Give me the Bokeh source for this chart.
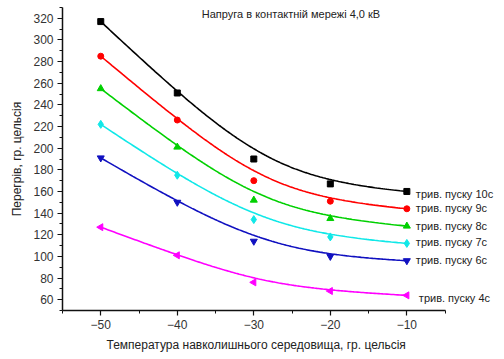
import numpy as np
from bokeh.plotting import figure
from bokeh.models import Range1d, Label, FixedTicker, Title
from bokeh.embed import file_html
from bokeh.resources import INLINE

# ---- data ----
temps = [-50, -40, -30, -20, -10]
start_10s = [317, 251, 190, 167, 160]
start_9s = [285, 226, 170, 151, 144]
start_8s = [255, 201, 152, 135, 128]
start_7s = [222, 175, 134, 118, 112]
start_6s = [191, 150, 114, 100, 96]
start_4s = [127, 101, 76, 68, 64]
series_labels = ["трив. пуску 10с", "трив. пуску 9с", "трив. пуску 8с",
                 "трив. пуску 7с", "трив. пуску 6с", "трив. пуску 4с"]
x_ticks = [-50, -40, -30, -20, -10]
y_ticks = [60, 80, 100, 120, 140, 160, 180, 200, 220, 240, 260, 280, 300, 320]
title_text = "Напруга в контактній мережі 4,0 кВ"
x_label = "Температура навколишнього середовища, гр. цельсія"
y_label = "Перегрів, гр. цельсія"

series = [start_10s, start_9s, start_8s, start_7s, start_6s, start_4s]
colors = ["#000000", "#ff0000", "#00d000", "#10e8e8", "#1010c0", "#ff00ff"]
markers = ["square", "circle", "triangle", "diamond", "inverted_triangle", "triangle"]
sizes = [6, 6, 7, 8, 7, 7]
angles = [0, 0, 0, 0, 0, np.pi / 2]
label_dx = [9, 9, 9, 9, 9, 12]
label_dy = [-3, 1, 0, 1, 1, -3]

FONT = "Liberation Sans"


def bspline(px, py, n=200):
    """Clamped cubic B-spline with the data points as control points
    (the 'B-Spline' line connection of the original chart)."""
    P = np.column_stack([px, py]).astype(float)
    m = len(P)
    k = 3
    inner = list(range(1, m - k))
    knots = np.array([0] * (k + 1) + inner + [m - k] * (k + 1), float)
    ts = np.linspace(0, m - k, n)
    ts[-1] -= 1e-9

    def basis(i, d, t):
        if d == 0:
            return 1.0 if knots[i] <= t < knots[i + 1] else 0.0
        a = 0.0
        if knots[i + d] != knots[i]:
            a = (t - knots[i]) / (knots[i + d] - knots[i]) * basis(i, d - 1, t)
        b = 0.0
        if knots[i + d + 1] != knots[i + 1]:
            b = (knots[i + d + 1] - t) / (knots[i + d + 1] - knots[i + 1]) * basis(i + 1, d - 1, t)
        return a + b

    out = np.array([sum(basis(i, k, t) * P[i] for i in range(m)) for t in ts])
    return out[:, 0], out[:, 1]


p = figure(width=504, height=359, output_backend="svg", toolbar_location=None,
           x_range=Range1d(-55, 2.5), y_range=Range1d(50, 330),
           min_border_left=62, min_border_right=2, min_border_top=7,
           min_border_bottom=49)
p.outline_line_color = None
p.xgrid.visible = False
p.ygrid.visible = False
p.background_fill_color = "white"
p.border_fill_color = "white"

for vals, col, mk, sz, ang, lab, dx, dy in zip(series, colors, markers, sizes,
                                               angles, series_labels,
                                               label_dx, label_dy):
    cx, cy = bspline(temps, vals)
    p.line(cx, cy, line_color=col, line_width=1.6)
    p.scatter(temps, vals, marker=mk, angle=ang, size=sz, fill_color=col,
              line_color=col)
    p.add_layout(Label(x=temps[-1], y=vals[-1], text=lab, x_offset=dx,
                       y_offset=dy, text_font=FONT, text_font_size="11px",
                       text_color="#222222", text_baseline="middle",
                       text_align="left"))

for ax in (p.xaxis[0], p.yaxis[0]):
    ax.axis_line_color = "#111111"
    ax.axis_line_width = 1.5
    ax.major_tick_line_color = "#111111"
    ax.minor_tick_line_color = "#111111"
    ax.major_tick_line_width = 1.2
    ax.major_tick_in = 0
    ax.major_tick_out = 5
    ax.minor_tick_in = 0
    ax.minor_tick_out = 3
    ax.major_label_text_font = FONT
    ax.major_label_text_font_size = "12px"
    ax.major_label_text_color = "#333333"
    ax.axis_label_text_font = FONT
    ax.axis_label_text_font_size = "12px"
    ax.axis_label_text_font_style = "normal"
    ax.axis_label_text_color = "#222222"

p.xaxis.bounds = (-55, -5)
p.xaxis.ticker = FixedTicker(ticks=x_ticks, minor_ticks=[-55, -45, -35, -25, -15, -5])
p.yaxis.ticker = FixedTicker(ticks=y_ticks,
                             minor_ticks=list(range(50, 331, 10)))
p.yaxis.axis_label = y_label
p.xaxis.major_label_standoff = 4
p.yaxis.major_label_standoff = 4
p.yaxis.axis_label_standoff = 6

# x-axis title centred under the axis line (which is shorter than the frame)
p.add_layout(Title(text=x_label, align="left", offset=44, text_font=FONT,
                   text_font_size="12px", text_font_style="normal",
                   text_color="#222222", standoff=9), "below")

p.add_layout(Label(x=-36.8, y=324, text=title_text, text_font=FONT,
                   text_font_size="11px", text_color="#222222",
                   text_baseline="middle"))

open("out.html", "w").write(file_html(p, INLINE))
